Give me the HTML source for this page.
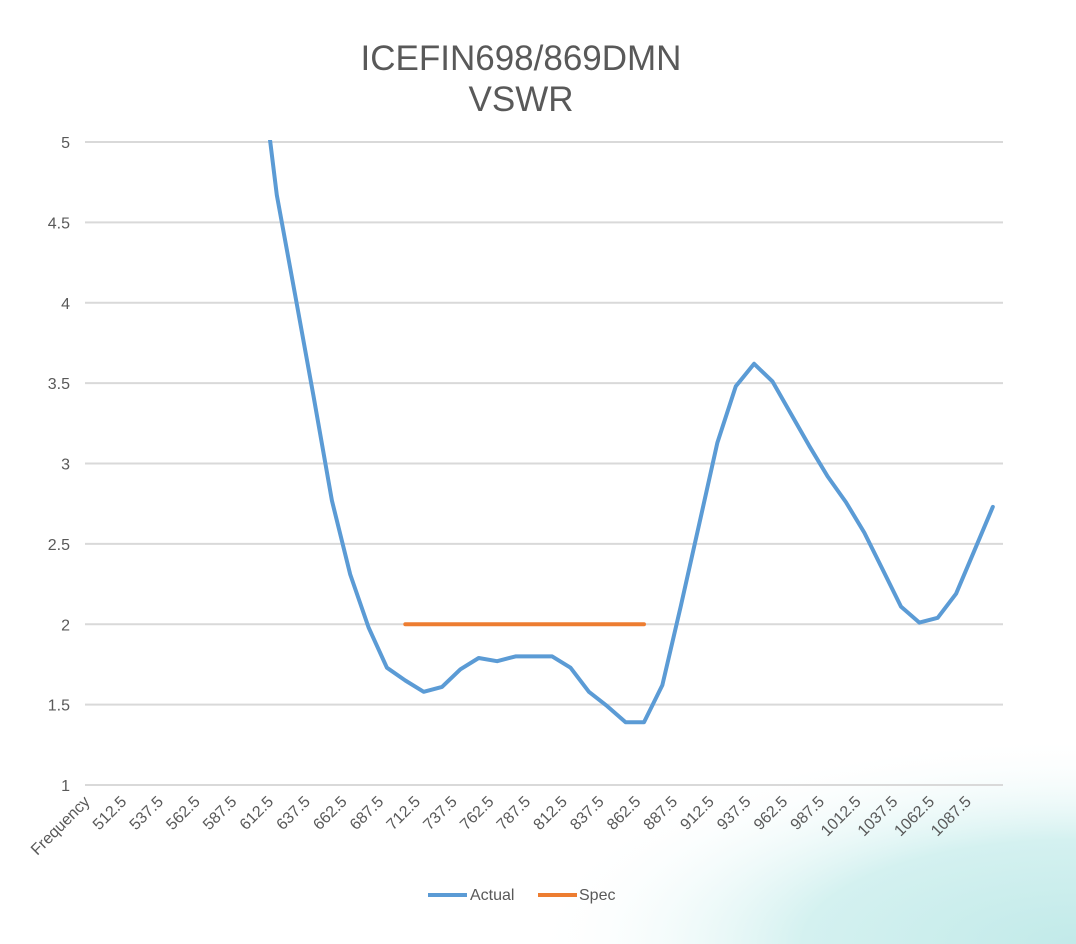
<!DOCTYPE html>
<html><head><meta charset="utf-8"><style>
html,body{margin:0;padding:0;background:#fff}
svg{display:block;font-family:"Liberation Sans",Arial,sans-serif}
</style></head><body>
<svg id="c" width="1076" height="944" viewBox="0 0 1076 944" xmlns="http://www.w3.org/2000/svg">
<defs>
<radialGradient id="bg" cx="1076" cy="944" r="520" gradientUnits="userSpaceOnUse" gradientTransform="translate(1076 944) scale(1.05 0.4) translate(-1076 -944)">
<stop offset="0" stop-color="#c2eae9"/>
<stop offset="0.5" stop-color="#d4f1f0"/>
<stop offset="1" stop-color="#ffffff" stop-opacity="0"/>
</radialGradient>
<clipPath id="pc"><rect x="80" y="140" width="930" height="650"/></clipPath>
</defs>
<rect width="1076" height="944" fill="#fff"/>
<rect width="1076" height="944" fill="url(#bg)"/>
<text x="521" y="70" font-size="35" fill="#595959" text-anchor="middle">ICEFIN698/869DMN</text>
<text x="521" y="111" font-size="35" fill="#595959" text-anchor="middle">VSWR</text>
<g id="grid"></g>
<g id="ylab" font-size="16" fill="#595959" text-anchor="end"></g>
<g id="xlab" font-size="16" fill="#595959" text-anchor="end"></g>
<g clip-path="url(#pc)">
<polyline id="spec" fill="none" stroke="#ed7d31" stroke-width="4" stroke-linecap="round"/>
<polyline id="act" fill="none" stroke="#5b9bd5" stroke-width="4" stroke-linejoin="round" stroke-linecap="round"/>
</g>
<line x1="428" y1="895" x2="467" y2="895" stroke="#5b9bd5" stroke-width="4"/>
<text x="470" y="900" font-size="16" fill="#595959">Actual</text>
<line x1="538" y1="895" x2="577" y2="895" stroke="#ed7d31" stroke-width="4"/>
<text x="579" y="900" font-size="16" fill="#595959">Spec</text>
</svg>
<script>
var NS="http://www.w3.org/2000/svg";
function Y(v){return 785-(v-1)*160.75;}
function X(i){return 85+18.36*(i+0.5)-1;}
var g=document.getElementById("grid"),yl=document.getElementById("ylab"),xl=document.getElementById("xlab");
for(var k=0;k<=8;k++){var v=1+k*0.5,y=Y(v);
var l=document.createElementNS(NS,"line");l.setAttribute("x1",85);l.setAttribute("x2",1003);l.setAttribute("y1",y);l.setAttribute("y2",y);l.setAttribute("stroke","#d9d9d9");l.setAttribute("stroke-width","2");g.appendChild(l);
var t=document.createElementNS(NS,"text");t.setAttribute("x",70);t.setAttribute("y",y+6);t.textContent=String(v);yl.appendChild(t);}
for(var i=0;i<=48;i+=2){var t=document.createElementNS(NS,"text");var x=X(i)-6,y=799;
t.setAttribute("transform","translate("+x+","+y+") rotate(-45)");t.setAttribute("x",0);t.setAttribute("y",5);
t.textContent=i==0?"Frequency":String(487.5+12.5*i);xl.appendChild(t);}
var d={9:5.6,10:4.67,11:4.05,12:3.42,13:2.77,14:2.31,15:1.98,16:1.73,17:1.65,18:1.58,19:1.61,20:1.72,21:1.79,22:1.77,23:1.80,24:1.80,25:1.80,26:1.73,27:1.58,28:1.49,29:1.39,30:1.39,31:1.62,32:2.11,33:2.62,34:3.13,35:3.48,36:3.62,37:3.51,38:3.31,39:3.11,40:2.92,41:2.76,42:2.57,43:2.34,44:2.11,45:2.01,46:2.04,47:2.19,48:2.46,49:2.73};
var p=[];for(var i=9;i<=49;i++)p.push(X(i).toFixed(1)+","+Y(d[i]).toFixed(1));
document.getElementById("act").setAttribute("points",p.join(" "));
document.getElementById("spec").setAttribute("points",X(17)+","+Y(2)+" "+X(30)+","+Y(2));
</script>
</body></html>
